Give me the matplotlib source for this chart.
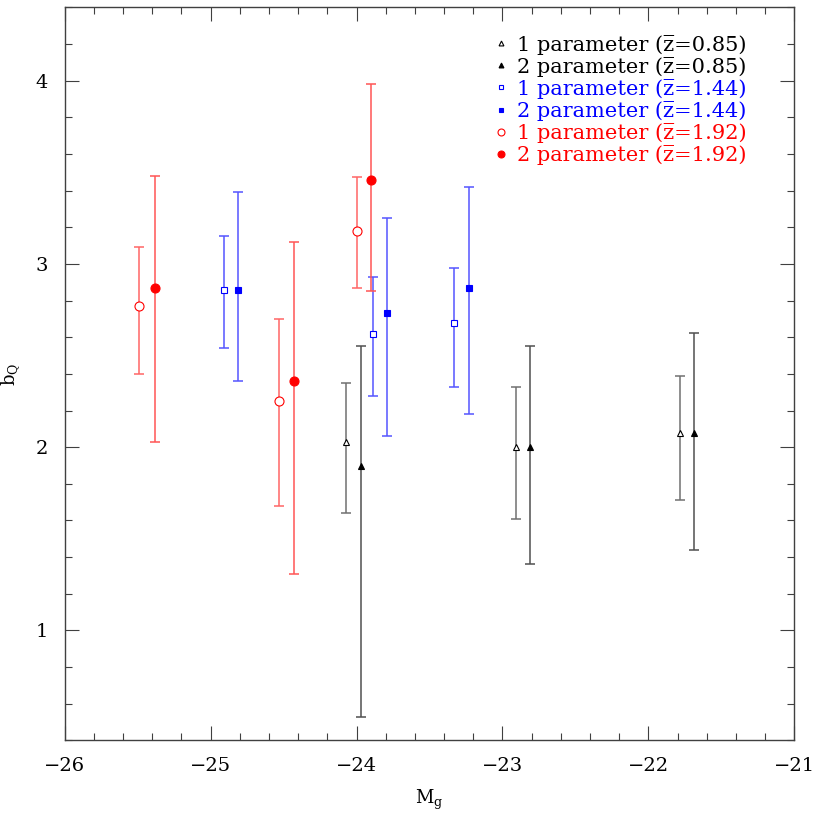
import numpy as np
import matplotlib
matplotlib.use("Agg")
import matplotlib.pyplot as plt
from matplotlib.lines import Line2D

plt.rcParams["font.family"] = ["DejaVu Serif"]
plt.rcParams["mathtext.fontset"] = "dejavuserif"

# z=0.85 sample
mag_z085_1p = [-24.07, -22.91, -21.78]
b_z085_1p = [2.03, 2.00, 2.08]
hi_z085_1p = [2.35, 2.33, 2.39]
lo_z085_1p = [1.64, 1.61, 1.71]

mag_z085_2p = [-23.97, -22.81, -21.69]
b_z085_2p = [1.90, 2.00, 2.08]
hi_z085_2p = [2.55, 2.555, 2.625]
lo_z085_2p = [0.525, 1.36, 1.44]

# z=1.44 sample
mag_z144_1p = [-24.91, -23.89, -23.33]
b_z144_1p = [2.86, 2.62, 2.68]
hi_z144_1p = [3.15, 2.93, 2.98]
lo_z144_1p = [2.54, 2.28, 2.33]

mag_z144_2p = [-24.81, -23.79, -23.23]
b_z144_2p = [2.86, 2.73, 2.87]
hi_z144_2p = [3.395, 3.25, 3.42]
lo_z144_2p = [2.36, 2.06, 2.18]

# z=1.92 sample
mag_z192_1p = [-25.49, -24.53, -24.00]
b_z192_1p = [2.77, 2.25, 3.18]
hi_z192_1p = [3.095, 2.70, 3.475]
lo_z192_1p = [2.40, 1.68, 2.87]

mag_z192_2p = [-25.38, -24.43, -23.90]
b_z192_2p = [2.87, 2.36, 3.46]
hi_z192_2p = [3.48, 3.12, 3.98]
lo_z192_2p = [2.03, 1.31, 2.855]

series = [
    (mag_z085_1p, b_z085_1p, lo_z085_1p, hi_z085_1p, "^", False, "black", "#707070", "1 parameter", "0.85"),
    (mag_z085_2p, b_z085_2p, lo_z085_2p, hi_z085_2p, "^", True, "black", "#505050", "2 parameter", "0.85"),
    (mag_z144_1p, b_z144_1p, lo_z144_1p, hi_z144_1p, "s", False, "blue", "#5555ff", "1 parameter", "1.44"),
    (mag_z144_2p, b_z144_2p, lo_z144_2p, hi_z144_2p, "s", True, "blue", "#5555ff", "2 parameter", "1.44"),
    (mag_z192_1p, b_z192_1p, lo_z192_1p, hi_z192_1p, "o", False, "red", "#ff6666", "1 parameter", "1.92"),
    (mag_z192_2p, b_z192_2p, lo_z192_2p, hi_z192_2p, "o", True, "red", "#ff5555", "2 parameter", "1.92"),
]
marker_size = {"^": 5, "s": 5, "o": 6.5}

fig = plt.figure(figsize=(8.3, 8.3), dpi=100)
ax = fig.add_axes([0.078, 0.108, 0.879, 0.883])

handles, labels, colors = [], [], []
for x, y, lo, hi, mk, filled, col, ecol, name, z in series:
    x = np.array(x); y = np.array(y)
    yerr = [y - np.array(lo), np.array(hi) - y]
    ms = marker_size[mk]
    ax.errorbar(x, y, yerr=yerr, fmt="none", ecolor=ecol, elinewidth=1.1,
                capsize=3.5, capthick=1.1, zorder=2)
    ax.plot(x, y, linestyle="none", marker=mk, markersize=ms,
            markerfacecolor=col if filled else "white", markeredgecolor=col,
            markeredgewidth=0.8, zorder=3)
    handles.append(Line2D([], [], linestyle="none", marker=mk, markersize=ms - 1.5,
                          markerfacecolor=col if filled else "white",
                          markeredgecolor=col, markeredgewidth=0.8))
    labels.append(name + " (z\u0305=" + z + ")")
    colors.append(col)

ax.legend(handles, labels, loc="upper right", frameon=False, fontsize=15,
          labelcolor=colors, handlelength=0.6, handletextpad=0.5,
          labelspacing=0.1, borderaxespad=0.0, borderpad=0.0,
          bbox_to_anchor=(0.935, 0.963))

ax.set_xlim(-26, -21)
ax.set_ylim(0.4, 4.4)
ax.set_xticks(np.arange(-26, -20.9, 1))
ax.set_xticks(np.arange(-26, -20.9, 0.2), minor=True)
ax.set_yticks([1, 2, 3, 4])
ax.set_yticks(np.arange(0.4, 4.41, 0.2), minor=True)
ax.set_xticklabels(["\u221226", "\u221225", "\u221224", "\u221223", "\u221222", "\u221221"])
ax.tick_params(which="both", direction="in", top=True, right=True, labelsize=14,
               color="#404040")
ax.tick_params(which="major", length=10, width=0.8, pad=12)
ax.tick_params(which="minor", length=5, width=0.8)
for s in ax.spines.values():
    s.set_color("#404040")
    s.set_linewidth(1.0)

ax.set_xlabel(r"M$_{\rm g}$", fontsize=13, labelpad=9)
ax.set_ylabel(r"b$_{\rm Q}$", fontsize=13, labelpad=10)

plt.savefig("out.png", dpi=100)
